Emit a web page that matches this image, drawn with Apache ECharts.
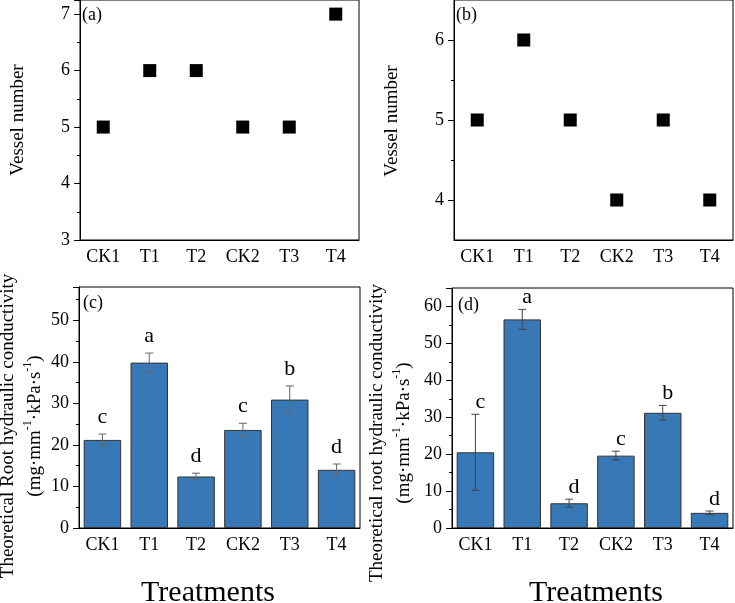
<!DOCTYPE html>
<html>
<head>
<meta charset="utf-8">
<script src="https://cdn.jsdelivr.net/npm/echarts@6/dist/echarts.min.js"></script>
<style>
  html, body { margin: 0; padding: 0; background: #fff; }
  #main { width: 735px; height: 603px; }
</style>
</head>
<body>
<div id="main"></div>
<script>
// 数据
const categories = ['CK1', 'T1', 'T2', 'CK2', 'T3', 'T4'];
const vesselA = [5, 6, 6, 5, 5, 7];
const vesselB = [5, 6, 5, 4, 5, 4];
const condC = [21.2, 39.8, 12.4, 23.6, 30.9, 14.0];
const errC = [1.4, 2.3, 0.8, 1.6, 3.3, 1.4];
const letterC = ['c', 'a', 'd', 'c', 'b', 'd'];
const condD = [20.5, 56.5, 6.7, 19.6, 31.2, 4.1];
const errD = [10.3, 2.7, 1.1, 1.2, 2.0, 0.5];
const letterD = ['c', 'a', 'd', 'c', 'b', 'd'];

const FONT = '"Liberation Serif", "Times New Roman", serif';

var myChart = echarts.init(document.getElementById('main'));

function xAxisOf(grid) {
    return {
        type: 'category', gridIndex: grid, data: categories,
        axisLine: { lineStyle: { color: '#000', width: 1 } },
        axisTick: { show: false },
        axisLabel: { color: '#000', fontSize: 18, fontFamily: FONT, margin: 8 },
        splitLine: { show: false }
    };
}

function yAxisOf(grid, min, max, interval, step) {
    return {
        type: 'value', gridIndex: grid, position: 'left', min: min, max: max, interval: interval,
        axisLine: { show: true, lineStyle: { color: '#000', width: 1 } },
        axisTick: { show: true, inside: false, length: 6, lineStyle: { color: '#000' } },
        minorTick: { show: true, splitNumber: 2, length: 3, lineStyle: { color: '#000' } },
        axisLabel: {
            color: '#000', fontSize: 18, fontFamily: FONT, margin: 10,
            formatter: function (v) { return Math.abs(v / step - Math.round(v / step)) < 1e-6 ? String(v) : ''; }
        },
        splitLine: { show: false }
    };
}

function errorSeries(xi, vals, errs, letters, color, gap, dx) {
    return {
        type: 'custom', xAxisIndex: xi, yAxisIndex: xi, z: 5, clip: false,
        data: vals.map(function (v, i) { return [i, v, errs[i]]; }),
        renderItem: function (params, api) {
            var i = api.value(0), v = api.value(1), e = api.value(2);
            var top = api.coord([i, v + e]);
            var bot = api.coord([i, v - e]);
            var w = 4;
            var ls = { stroke: color, lineWidth: 1 };
            return {
                type: 'group',
                children: [
                    { type: 'line', shape: { x1: top[0], y1: top[1], x2: bot[0], y2: bot[1] }, style: ls },
                    { type: 'line', shape: { x1: top[0] - w, y1: top[1], x2: top[0] + w, y2: top[1] }, style: ls },
                    { type: 'line', shape: { x1: bot[0] - w, y1: bot[1], x2: bot[0] + w, y2: bot[1] }, style: ls },
                    {
                        type: 'text',
                        style: {
                            text: letters[params.dataIndex], x: top[0] + dx, y: top[1] - gap,
                            align: 'center', verticalAlign: 'bottom',
                            font: '22px ' + FONT, fill: '#000'
                        }
                    }
                ]
            };
        }
    };
}

function barSeries(xi, vals) {
    return {
        type: 'bar', xAxisIndex: xi, yAxisIndex: xi, data: vals, barWidth: '80%',
        itemStyle: { color: '#3878b6', borderColor: '#333', borderWidth: 1 },
        emphasis: { disabled: true }
    };
}

function scatterSeries(xi, vals) {
    return {
        type: 'scatter', xAxisIndex: xi, yAxisIndex: xi, data: vals,
        symbol: 'rect', symbolSize: 13, itemStyle: { color: '#000', opacity: 1 }
    };
}

const yB = yAxisOf(1, 3.5, 6.5, 0.5, 1);
yB.minorTick = { show: false };
yB.axisTick.customValues = [4, 5, 6];
yB.axisLabel.customValues = [4, 5, 6];
const yBminor = {
    type: 'value', gridIndex: 1, position: 'left', min: 3.5, max: 6.5, interval: 0.5,
    axisLine: { show: false },
    axisTick: { show: true, inside: false, length: 3, customValues: [4.5, 5.5], lineStyle: { color: '#000' } },
    axisLabel: { show: false }, splitLine: { show: false }
};

const gridStyle = { show: true, borderColor: '#000', borderWidth: 1, outerBoundsMode: 'none' };

var option = {
    animation: false,
    textStyle: { fontFamily: FONT },
    grid: [
        Object.assign({ left: 80, top: 0, width: 279, height: 240 }, gridStyle),
        Object.assign({ left: 454, top: 0, width: 279, height: 240 }, gridStyle),
        Object.assign({ left: 79, top: 287, width: 281, height: 241 }, gridStyle),
        Object.assign({ left: 452, top: 288, width: 281, height: 240 }, gridStyle)
    ],
    xAxis: [xAxisOf(0), xAxisOf(1), xAxisOf(2), xAxisOf(3)],
    yAxis: [
        yAxisOf(0, 3, 7.25, 1, 1),
        yB,
        yAxisOf(2, 0, 58, 10, 10),
        yAxisOf(3, 0, 65, 10, 10),
        yBminor
    ],
    series: [
        scatterSeries(0, vesselA),
        scatterSeries(1, vesselB),
        barSeries(2, condC),
        barSeries(3, condD),
        errorSeries(2, condC, errC, letterC, '#666', 6, 0),
        errorSeries(3, condD, errD, letterD, '#444', 1, 5)
    ],
    graphic: [
        { type: 'text', x: 82, y: 15, style: { text: '(a)', font: '18px ' + FONT, fill: '#000', verticalAlign: 'middle' } },
        { type: 'text', x: 456, y: 15, style: { text: '(b)', font: '18px ' + FONT, fill: '#000', verticalAlign: 'middle' } },
        { type: 'text', x: 83, y: 303, style: { text: '(c)', font: '18px ' + FONT, fill: '#000', verticalAlign: 'middle' } },
        { type: 'text', x: 458, y: 305, style: { text: '(d)', font: '18px ' + FONT, fill: '#000', verticalAlign: 'middle' } },
        { type: 'text', x: 18, y: 120, rotation: Math.PI / 2,
          style: { text: 'Vessel number', font: '19px ' + FONT, fill: '#000', align: 'center', verticalAlign: 'middle' } },
        { type: 'text', x: 392, y: 121, rotation: Math.PI / 2,
          style: { text: 'Vessel number', font: '19px ' + FONT, fill: '#000', align: 'center', verticalAlign: 'middle' } },
        { type: 'text', x: 22, y: 426, rotation: Math.PI / 2,
          style: {
              text: '{t|Theoretical Root hydraulic conductivity}\n{p|(mg·mm}{s|-1}{p|·kPa·s}{s|-1}{p|)}',
              align: 'center', verticalAlign: 'middle', fill: '#000',
              rich: {
                  t: { fontSize: 19, fontFamily: FONT, lineHeight: 27 },
                  p: { fontSize: 19, fontFamily: FONT, lineHeight: 27 },
                  s: { fontSize: 12, fontFamily: FONT, lineHeight: 17, verticalAlign: 'top' }
              }
          } },
        { type: 'text', x: 391, y: 433, rotation: Math.PI / 2,
          style: {
              text: '{t|Theoretical root hydraulic conductivity}\n{p|(mg·mm}{s|-1}{p|·kPa·s}{s|-1}{p|)}',
              align: 'center', verticalAlign: 'middle', fill: '#000',
              rich: {
                  t: { fontSize: 19, fontFamily: FONT, lineHeight: 27 },
                  p: { fontSize: 19, fontFamily: FONT, lineHeight: 27 },
                  s: { fontSize: 12, fontFamily: FONT, lineHeight: 17, verticalAlign: 'top' }
              }
          } },
        { type: 'text', x: 208, y: 593,
          style: { text: 'Treatments', font: '30px ' + FONT, fill: '#000', align: 'center', verticalAlign: 'middle' } },
        { type: 'text', x: 596, y: 593,
          style: { text: 'Treatments', font: '30px ' + FONT, fill: '#000', align: 'center', verticalAlign: 'middle' } }
    ]
};

myChart.setOption(option);
</script>
</body>
</html>
